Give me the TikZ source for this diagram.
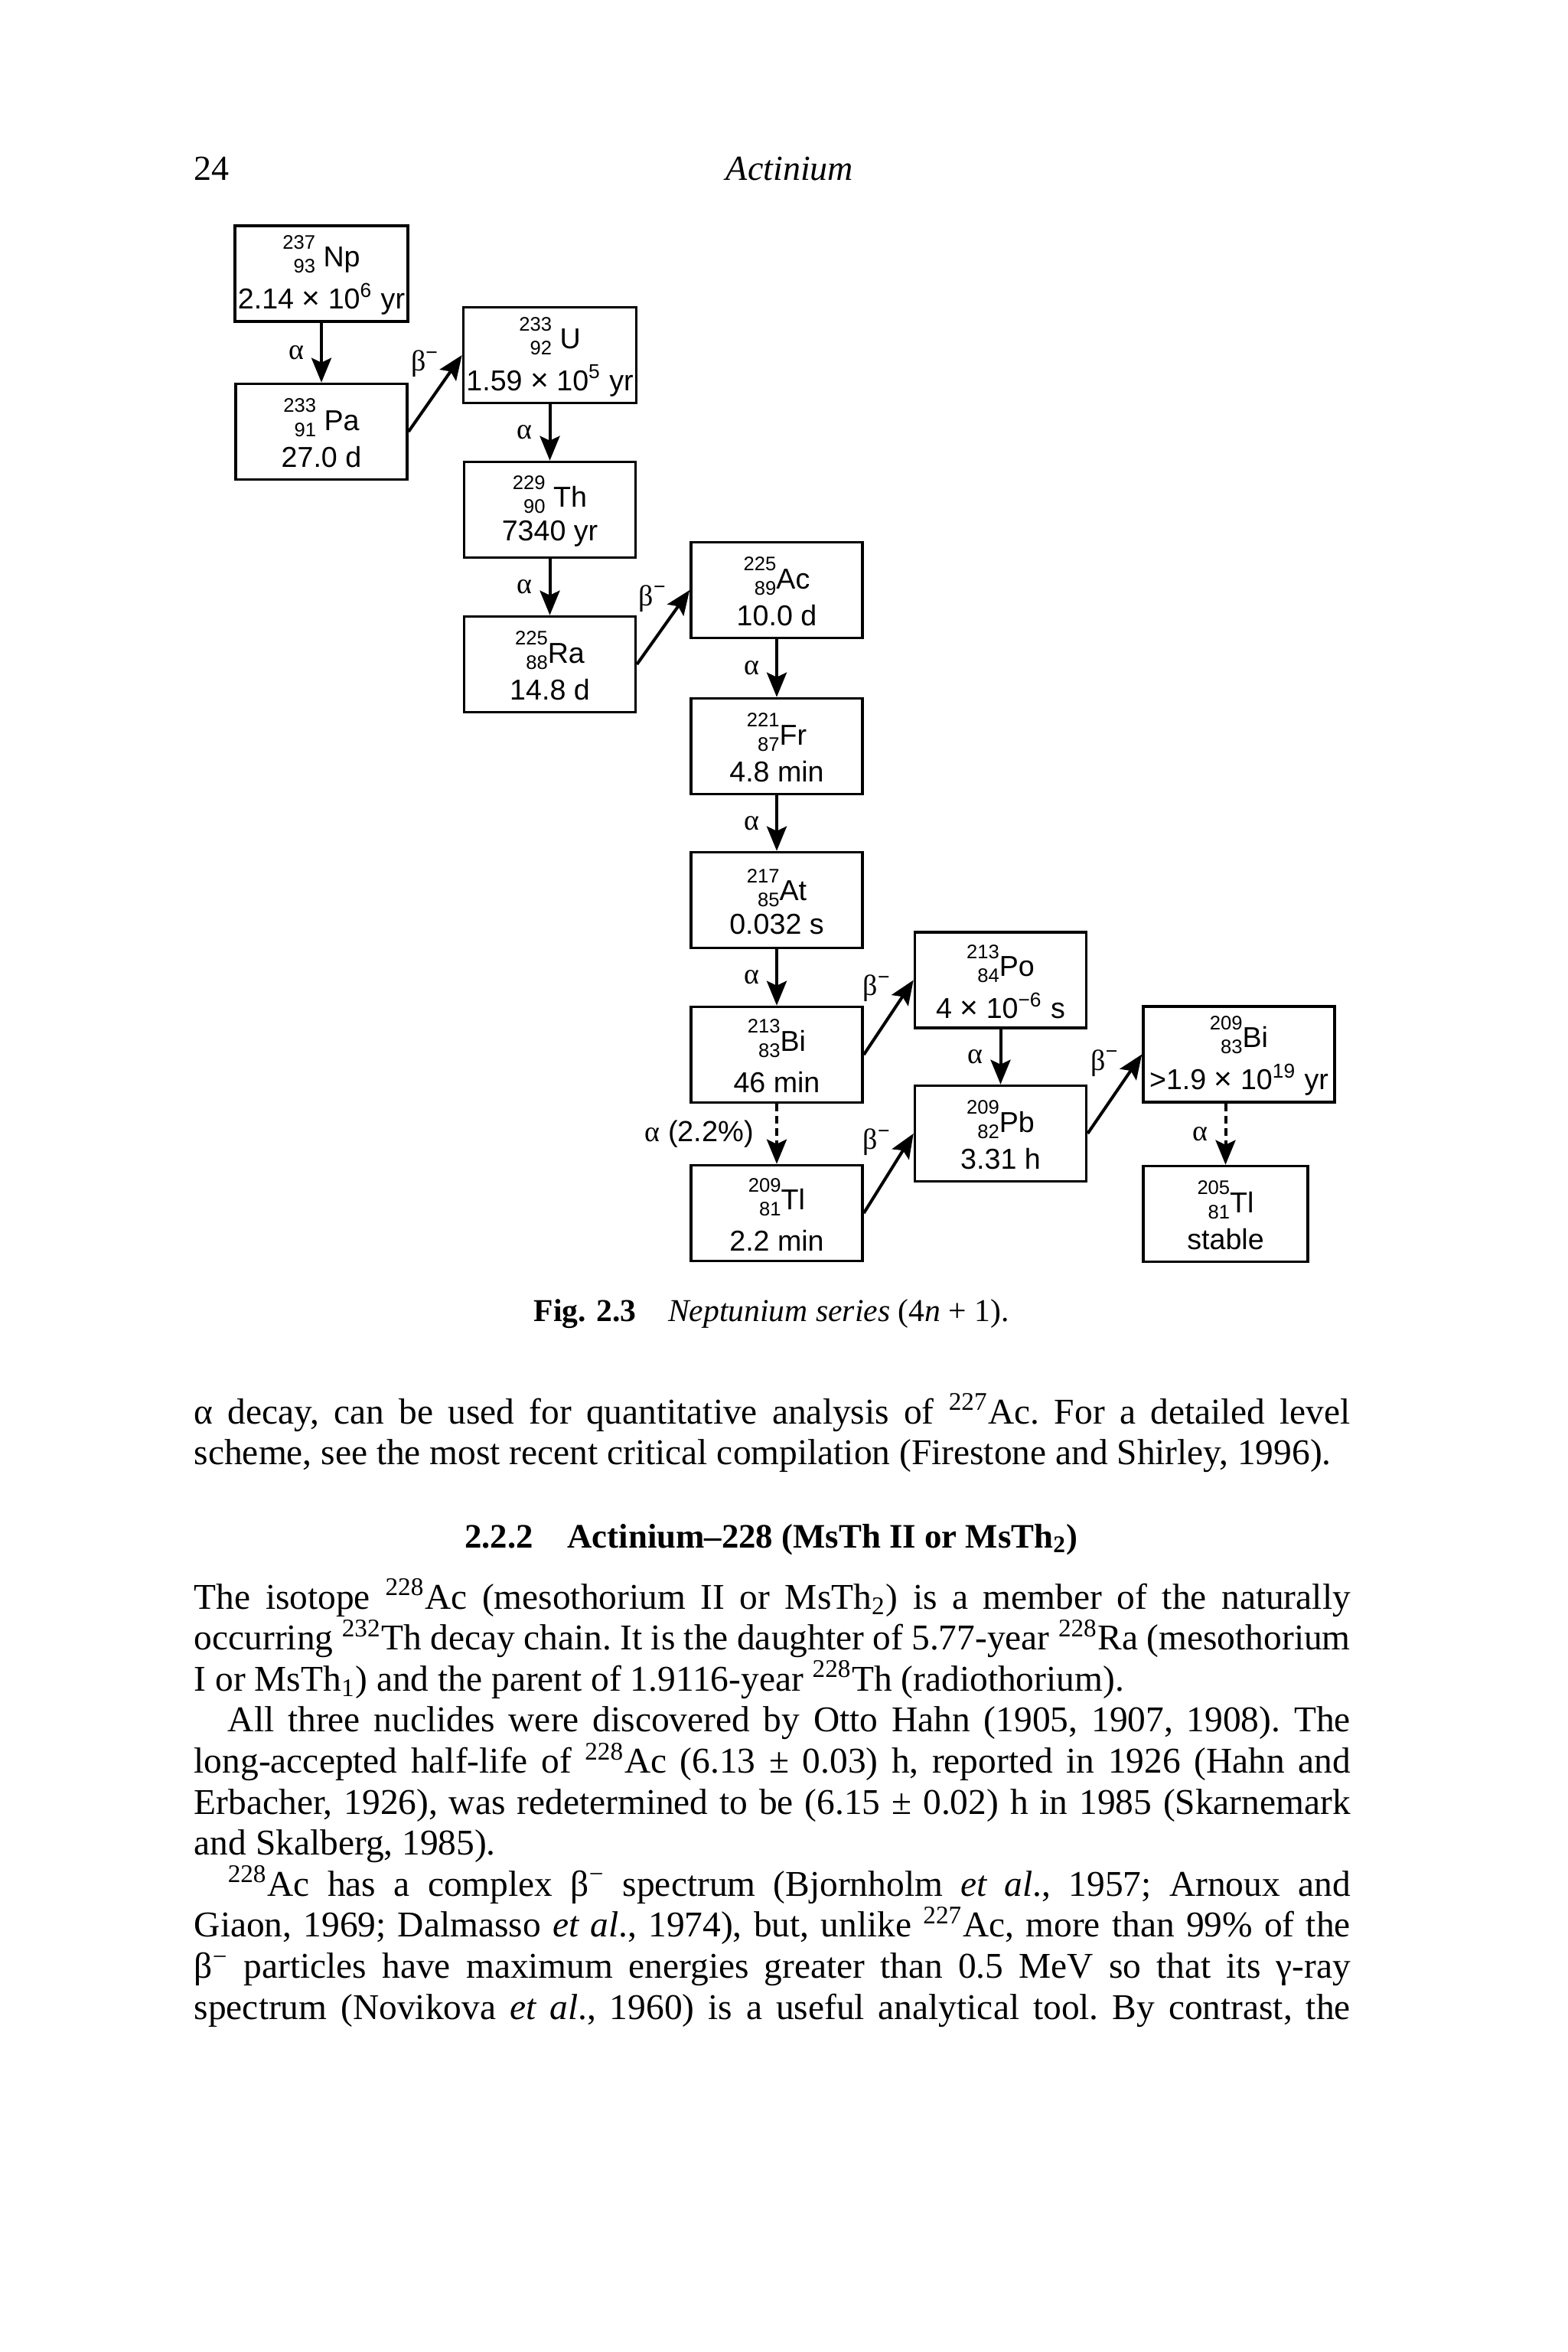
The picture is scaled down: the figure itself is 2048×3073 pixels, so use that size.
\documentclass[tikz,border=0pt]{standalone}
\usepackage{fontspec}
\setmainfont{Liberation Serif}
\newfontfamily\figfont{Liberation Sans}
\usetikzlibrary{arrows.meta}
% nuclide symbol: mass number over atomic number, then element
\newcommand{\nuc}[3]{\raisebox{-2pt}{\fontsize{6.4pt}{7.8pt}\selectfont\begin{tabular}[b]{@{}r@{}}#1\\#2\end{tabular}}#3}
\newcommand{\tms}{{\fontsize{10.2pt}{11pt}\selectfont ×}}
\newcommand{\alphasym}{{\rmfamily α}}
\newcommand{\betasym}{{\rmfamily β}\textsuperscript{−}}
\tikzset{
  nucbox/.style={draw, line width=0.9pt, minimum width=56pt, minimum height=31.25pt, inner sep=1pt, align=center, font=\figfont\fontsize{9.4pt}{11pt}\selectfont},
  decay/.style={-{Stealth[length=8pt,width=6.5pt,inset=1.5pt]}, line width=1pt},
  branch/.style={decay, dash pattern=on 2.5pt off 1.5pt},
  lbl/.style={inner sep=0pt, font=\figfont\fontsize{9.5pt}{11pt}\selectfont},
  bodytext/.style={inner sep=0pt, text width=377.75pt, align=justify, font=\fontsize{11.85pt}{13.4pt}\selectfont}
}

\begin{document}
\begin{tikzpicture}[x=0.25pt,y=-0.25pt]
\fill[white] (0,0) rectangle (2048,3073);
\useasboundingbox (0,0) rectangle (2048,3073);
% running head
\node[anchor=base west, inner sep=0pt, font=\fontsize{11.5pt}{13pt}\selectfont] (folio) at (253,235) {24};
\node[anchor=base, inner sep=0pt, font=\itshape\fontsize{11.5pt}{13pt}\selectfont] (runhead) at (1032,235) {Actinium};
% decay chain
\node[nucbox] (Np) at (420,357.5) {\nuc{237}{93}{\ Np}\\2.14 \tms{} 10\textsuperscript{6} yr};
\node[nucbox] (Pa) at (420,564) {\nuc{233}{91}{\ Pa}\\27.0 d};
\node[nucbox] (U) at (718.5,464) {\nuc{233}{92}{\ U}\\1.59 \tms{} 10\textsuperscript{5} yr};
\node[nucbox] (Th) at (718.5,666) {\nuc{229}{90}{\ Th}\\7340 yr};
\node[nucbox] (Ra) at (718.5,868) {\nuc{225}{88}{Ra}\\14.8 d};
\node[nucbox] (Ac) at (1015,771) {\nuc{225}{89}{Ac}\\10.0 d};
\node[nucbox] (Fr) at (1015,975) {\nuc{221}{87}{Fr}\\4.8 min};
\node[nucbox] (At) at (1015,1176) {\nuc{217}{85}{At}\\0.032 s};
\node[nucbox] (BiA) at (1015,1378) {\nuc{213}{83}{Bi}\\[1.5pt]46 min};
\node[nucbox] (TlA) at (1015,1585) {\nuc{209}{81}{Tl}\\[1.5pt]2.2 min};
\node[nucbox] (Po) at (1307.5,1280.5) {\nuc{213}{84}{Po}\\4 \tms{} 10\textsuperscript{−6} s};
\node[nucbox] (Pb) at (1307.5,1481) {\nuc{209}{82}{Pb}\\3.31 h};
\node[nucbox, minimum width=62.5pt] (BiB) at (1619,1377.5) {\nuc{209}{83}{Bi}\\>1.9 \tms{} 10\textsuperscript{19} yr};
\node[nucbox, minimum width=53.75pt] (TlB) at (1601.5,1586) {\nuc{205}{81}{Tl}\\stable};

\draw[decay] (Np) -- (Pa) node[lbl, midway, left=5.25pt] {\alphasym};
\draw[decay] (Pa.east) -- (U.west) node[lbl, pos=0.89, left=5pt] {\betasym};
\draw[decay] (U) -- (Th) node[lbl, midway, left=5.25pt] {\alphasym};
\draw[decay] (Th) -- (Ra) node[lbl, midway, left=5.25pt] {\alphasym};
\draw[decay] (Ra.east) -- (Ac.west) node[lbl, pos=0.89, left=5pt] {\betasym};
\draw[decay] (Ac) -- (Fr) node[lbl, midway, left=5.25pt] {\alphasym};
\draw[decay] (Fr) -- (At) node[lbl, midway, left=5.25pt] {\alphasym};
\draw[decay] (At) -- (BiA) node[lbl, midway, left=5.25pt] {\alphasym};
\draw[decay] (BiA.east) -- (Po.west) node[lbl, pos=0.89, left=5pt] {\betasym};
\draw[branch] (BiA) -- (TlA) node[lbl, midway, left=7pt] {\alphasym{} (2.2\%)};
\draw[decay] (Po) -- (Pb) node[lbl, midway, left=5.25pt] {\alphasym};
\draw[decay] (TlA.east) -- (Pb.west) node[lbl, pos=0.89, left=5pt] {\betasym};
\draw[decay] (Pb.east) -- (BiB.west) node[lbl, pos=0.89, left=5pt] {\betasym};
\draw[branch] (TlB.north |- BiB.south) -- (TlB.north) node[lbl, midway, left=5.25pt] {\alphasym};

\node[anchor=base, inner sep=0pt, font=\fontsize{10.4pt}{12pt}\selectfont] (caption) at (1008,1726) {\textbf{Fig. 2.3}\quad\textit{Neptunium series} (4\textit{n} + 1).};

% text below the figure
\node[bodytext, anchor=base west] (intro) at (253,1860) {\frenchspacing\hyphenpenalty=10000 α decay, can be used for quantitative analysis of \textsuperscript{227}Ac. For a detailed level\linebreak scheme, see the most recent critical compilation (Firestone and Shirley, 1996).};
\node[anchor=base, inner sep=0pt, font=\bfseries\fontsize{11.2pt}{13.4pt}\selectfont] (sechead) at (1008,2022) {2.2.2\quad Actinium–228 (MsTh II or MsTh\textsubscript{2})};
\node[bodytext, anchor=base west] (para) at (253,2102) {\frenchspacing\hyphenpenalty=10000 The isotope \textsuperscript{228}Ac (mesothorium II or MsTh\textsubscript{2}) is a member of the naturally\linebreak occurring \textsuperscript{232}Th decay chain. It is the daughter of 5.77-year \textsuperscript{228}Ra (mesothorium\linebreak I or MsTh\textsubscript{1}) and the parent of 1.9116-year \textsuperscript{228}Th (radiothorium).\par
\hspace*{11pt}All three nuclides were discovered by Otto Hahn (1905, 1907, 1908). The\linebreak long-accepted half-life of \textsuperscript{228}Ac (6.13 ± 0.03) h, reported in 1926 (Hahn and\linebreak Erbacher, 1926), was redetermined to be (6.15 ± 0.02) h in 1985 (Skarnemark\linebreak and Skalberg, 1985).\par
\hspace*{11pt}\textsuperscript{228}Ac has a complex β\textsuperscript{−} spectrum (Bjornholm \textit{et al}., 1957; Arnoux and\linebreak Giaon, 1969; Dalmasso \textit{et al}., 1974), but, unlike \textsuperscript{227}Ac, more than 99\% of the\linebreak β\textsuperscript{−} particles have maximum energies greater than 0.5 MeV so that its γ-ray\linebreak spectrum (Novikova \textit{et al}., 1960) is a useful analytical tool. By contrast, the\parfillskip=0pt\par};
\end{tikzpicture}
\end{document}
